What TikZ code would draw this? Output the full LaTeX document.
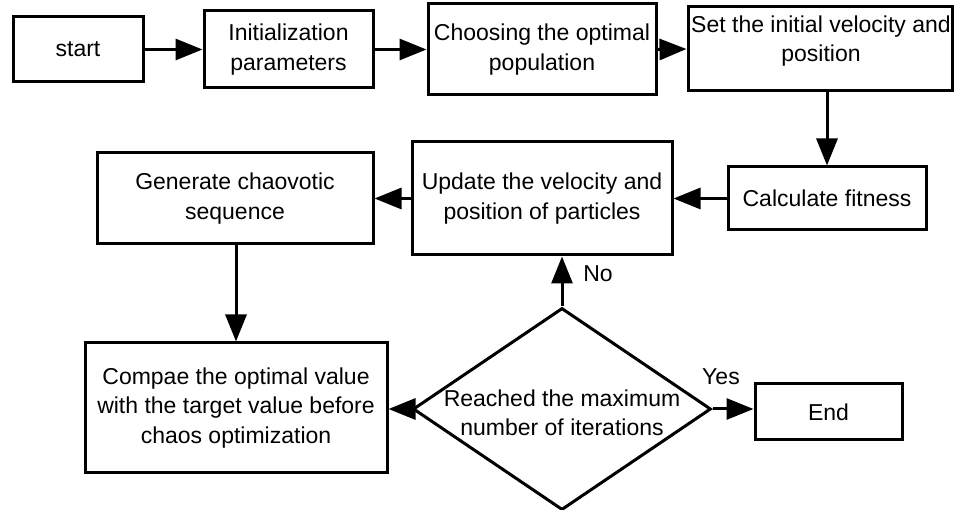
\documentclass[tikz,border=0pt]{standalone}
\usepackage{fontspec}
\setmainfont{Liberation Sans}
\usetikzlibrary{arrows.meta,shapes.geometric}
\begin{document}
\begin{tikzpicture}[x=1pt,y=-1pt,
  box/.style={draw,line width=3pt,inner sep=0pt,align=center,font=\fontsize{23}{29.5}\selectfont},
  lbl/.style={inner sep=0pt,align=center,font=\fontsize{23}{29.5}\selectfont},
  arr/.style={line width=3pt,-{Triangle[length=27pt,width=21pt]}}]
\useasboundingbox (0,0) rectangle (954,510);
\node[box,minimum width=130,minimum height=65] (start) at (78,49.5) {start};
\node[box,minimum width=169,minimum height=77] (init) at (288.5,49.5) {Initialization\\parameters};
\node[box,minimum width=228,minimum height=91] (choose) at (542,49.5) {Choosing the optimal\\population};
\node[box,minimum width=264,minimum height=84] (set) at (820,49) {};
\node[lbl] (settext) at (821,41) {Set the initial velocity and\\position};
\node[box,minimum width=198,minimum height=63] (calc) at (827,198.5) {Calculate fitness};
\node[box,minimum width=260,minimum height=113] (update) at (542,198.5) {Update the velocity and\\position of particles};
\node[box,minimum width=276,minimum height=91] (gen) at (235,198.5) {Generate chaovotic\\sequence};
\node[box,minimum width=302,minimum height=130] (cmp) at (236,408) {Compae the optimal value\\with the target value before\\chaos optimization};
\node[draw,line width=3pt,shape=diamond,inner sep=0pt,minimum width=298,minimum height=202] (dec) at (562,409) {};
\node[lbl] (dectext) at (562,413) {Reached the maximum\\number of iterations};
\node[box,minimum width=147,minimum height=56] (end) at (828.5,412) {End};
\node[lbl] (yes) at (721,377) {Yes};
\node[lbl] (no) at (598,273.5) {No};

\draw[arr] (start.east) -- (init.west);
\draw[arr] (init.east) -- (choose.west);
\draw[arr] (choose.east) -- (set.west);
\draw[arr] (calc.north |- set.south) -- (calc.north);
\draw[arr] (calc.west) -- (update.east);
\draw[arr] (update.west) -- (gen.east);
\draw[arr] (cmp.north |- gen.south) -- (cmp.north);
\draw[arr] (dec.west) -- (dec.west -| cmp.east);
\draw[arr] (dec.north) -- (dec.north |- update.south);
\draw[arr] (dec.east) -- (dec.east -| end.west);
\end{tikzpicture}
\end{document}
